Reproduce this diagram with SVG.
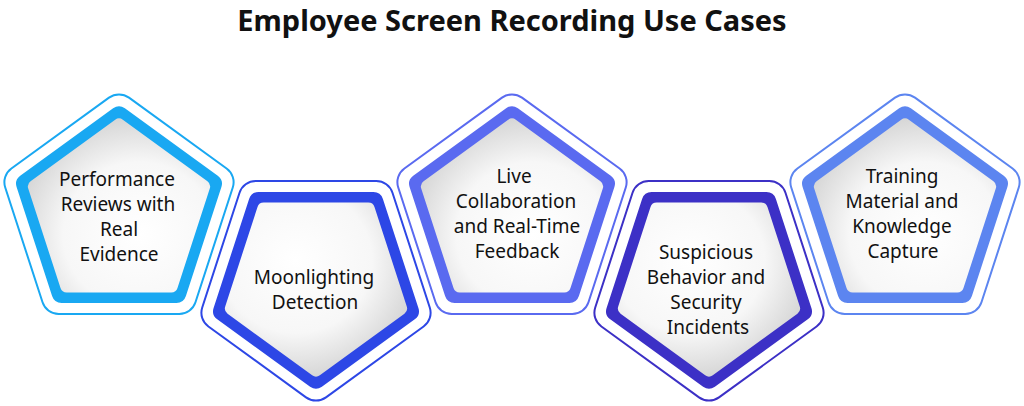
<svg xmlns="http://www.w3.org/2000/svg" width="1024" height="406" viewBox="0 0 1024 406">
<defs>
<radialGradient id="g" cx="0.62" cy="0.68" r="0.75">
<stop offset="0" stop-color="#ffffff"/><stop offset="0.6" stop-color="#f7f7f7"/><stop offset="1" stop-color="#d4d4d4"/>
</radialGradient>
<polygon id="pA" points="0,-102.6 97.6,-31.7 60.3,83 -60.3,83 -97.6,-31.7"/>
<polygon id="pB" points="0,-97.65 92.9,-30.2 57.4,79 -57.4,79 -92.9,-30.2"/>
<polygon id="pC" points="0,-89 84.6,-27.5 52.3,72 -52.3,72 -84.6,-27.5"/>
</defs>
<style>
.o{stroke-width:36;stroke-linejoin:round}
.w{fill:#fff;stroke:#fff;stroke-width:32;stroke-linejoin:round}
.b{stroke-width:20;stroke-linejoin:round}
.c{fill:url(#g);stroke:url(#g);stroke-width:13;stroke-linejoin:round}
text{font-family:"Noto Sans","Open Sans",sans-serif;font-size:19px;fill:#111;text-anchor:middle}
.t{font-size:29px;font-weight:bold}
</style>
<text class="t" x="512" y="31">Employee Screen Recording Use Cases</text>
<g id="connectors"/>
<g id="n1" transform="translate(119,214)">
<use href="#pA" class="o" fill="#19a8f2" stroke="#19a8f2"/><use href="#pA" class="w"/><use href="#pB" class="b" fill="#19a8f2" stroke="#19a8f2"/><use href="#pC" class="c"/>
</g>
<g id="n2" transform="translate(316,281) rotate(180)">
<use href="#pA" class="o" fill="#2d47e6" stroke="#2d47e6"/><use href="#pA" class="w"/><use href="#pB" class="b" fill="#2d47e6" stroke="#2d47e6"/><use href="#pC" class="c"/>
</g>
<g id="n3" transform="translate(512,214)">
<use href="#pA" class="o" fill="#5a6af0" stroke="#5a6af0"/><use href="#pA" class="w"/><use href="#pB" class="b" fill="#5a6af0" stroke="#5a6af0"/><use href="#pC" class="c"/>
</g>
<g id="n4" transform="translate(709,281) rotate(180)">
<use href="#pA" class="o" fill="#3c30c6" stroke="#3c30c6"/><use href="#pA" class="w"/><use href="#pB" class="b" fill="#3c30c6" stroke="#3c30c6"/><use href="#pC" class="c"/>
</g>
<g id="n5" transform="translate(905,214)">
<use href="#pA" class="o" fill="#5c85f0" stroke="#5c85f0"/><use href="#pA" class="w"/><use href="#pB" class="b" fill="#5c85f0" stroke="#5c85f0"/><use href="#pC" class="c"/>
</g>
<g id="labels">
<text x="117" y="186">Performance</text><text x="118" y="211">Reviews with</text><text x="119" y="236">Real</text><text x="119" y="261">Evidence</text>
<text x="314" y="284">Moonlighting</text><text x="315" y="309">Detection</text>
<text x="514" y="183">Live</text><text x="516" y="208">Collaboration</text><text x="517" y="233">and Real-Time</text><text x="517" y="258">Feedback</text>
<text x="706" y="259">Suspicious</text><text x="706" y="284">Behavior and</text><text x="706" y="309">Security</text><text x="708" y="334">Incidents</text>
<text x="902" y="183">Training</text><text x="902" y="208">Material and</text><text x="902" y="233">Knowledge</text><text x="903" y="258">Capture</text>
</g>
</svg>
